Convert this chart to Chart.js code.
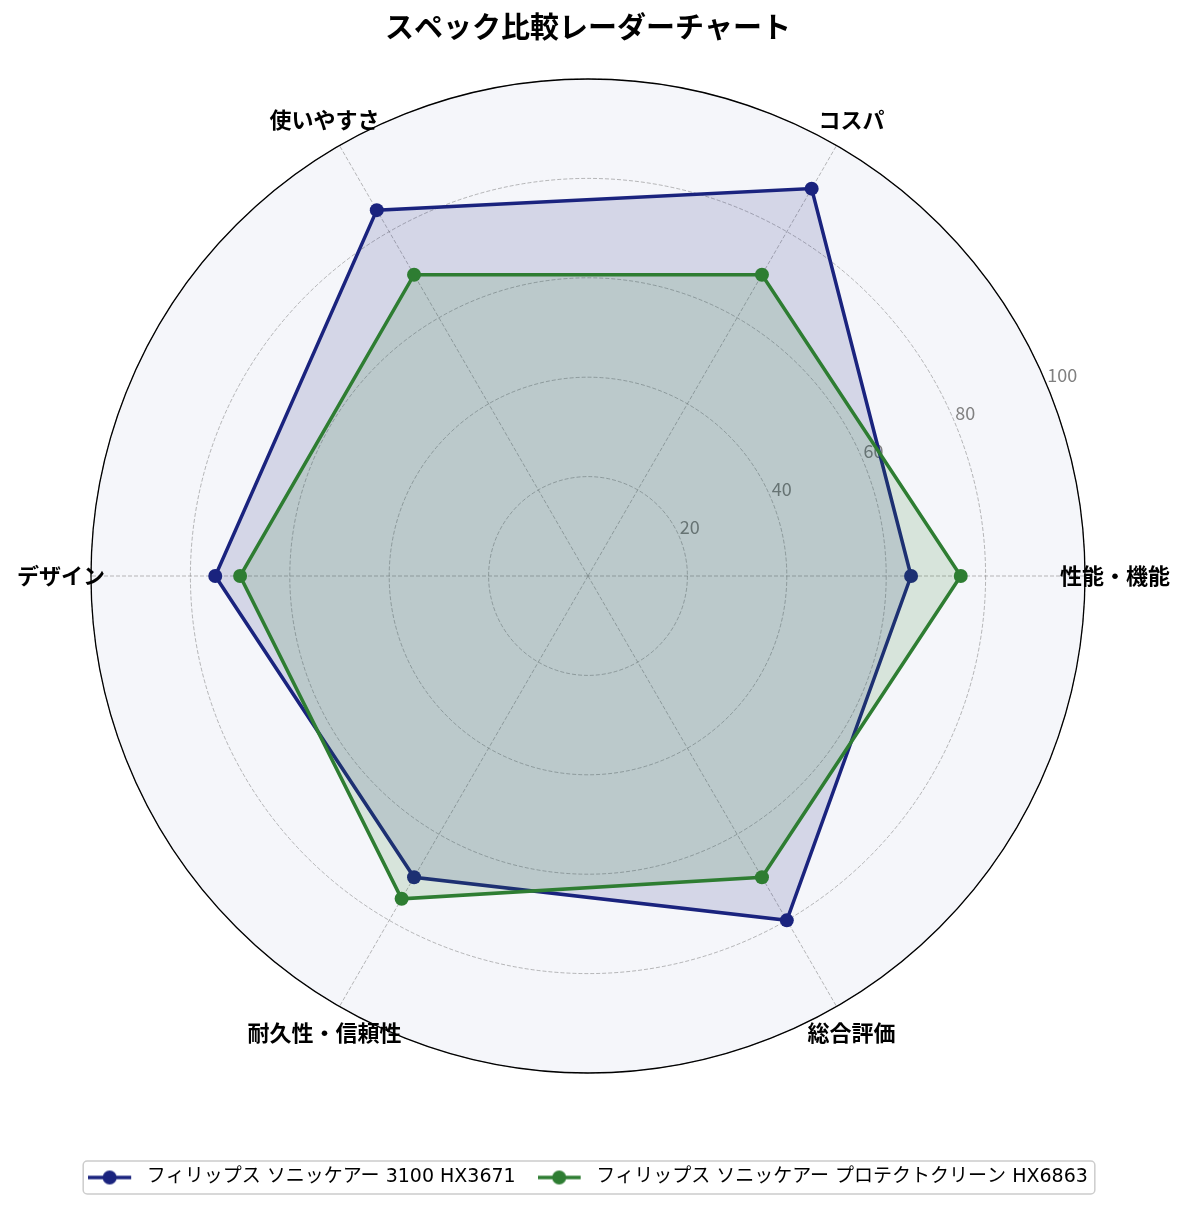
<!DOCTYPE html>
<html>
<head>
<meta charset="utf-8">
<script src="https://cdn.jsdelivr.net/npm/chart.js@4.4.1/dist/chart.umd.min.js"></script>
<style>
html, body { margin: 0; padding: 0; background: #ffffff; }
canvas { display: block; }
</style>
</head>
<body>
<canvas id="c" width="1185" height="1211"></canvas>
<script>
// ---- data (matplotlib order: counter-clockwise starting from the right) ----
const chartTitle = 'スペック比較レーダーチャート';
const categories = ['性能・機能', 'コスパ', '使いやすさ', 'デザイン', '耐久性・信頼性', '総合評価'];
const seriesNames = [
  'フィリップス ソニッケアー 3100 HX3671',
  'フィリップス ソニッケアー プロテクトクリーン HX6863'
];
const seriesHX3671 = [65, 90, 85, 75, 70, 80];
const seriesHX6863 = [75, 70, 70, 70, 75, 70];
const tickValues = [20, 40, 60, 80, 100];

// ---- styles ----
const lineColors = ['#1a237e', '#2e7d32'];
const fillColors = ['rgba(26,35,126,0.15)', 'rgba(46,125,50,0.15)'];
const FONT = '"Noto Sans CJK JP", "Noto Sans", sans-serif';
const LEGEND_FONT = '"DejaVu Sans", "Noto Sans CJK JP", sans-serif';

// Chart.js goes clockwise; the reference goes counter-clockwise -> reorder
const drawOrder = categories.map((_, i) => (categories.length - i) % categories.length);
const seriesList = [seriesHX3671, seriesHX6863];

function makeHandle(color) {
  const c = document.createElement('canvas');
  c.width = 49; c.height = 16;
  const g = c.getContext('2d');
  g.strokeStyle = color; g.lineWidth = 3.5;
  g.beginPath(); g.moveTo(0, 8); g.lineTo(43, 8); g.stroke();
  g.fillStyle = color;
  g.beginPath(); g.arc(21.5, 8, 7, 0, Math.PI * 2); g.fill();
  return c;
}
const handles = lineColors.map(makeHandle);

const polarDecor = {
  id: 'polarDecor',
  beforeDraw(chart) {
    const s = chart.scales.r, ctx = chart.ctx;
    const R = s.getDistanceFromCenterForValue(100);
    ctx.save();
    ctx.beginPath();
    ctx.arc(s.xCenter, s.yCenter, R, 0, Math.PI * 2);
    ctx.fillStyle = '#f5f6fa';
    ctx.fill();
    ctx.restore();
  },
  beforeDatasetsDraw(chart) {
    const s = chart.scales.r, ctx = chart.ctx;
    const a = 22.5 * Math.PI / 180;
    ctx.save();
    ctx.font = '18px ' + FONT;
    ctx.fillStyle = '#808080';
    ctx.textAlign = 'left';
    ctx.textBaseline = 'bottom';
    tickValues.forEach(v => {
      const d = s.getDistanceFromCenterForValue(v);
      ctx.fillText(String(v), s.xCenter + d * Math.cos(a), s.yCenter - d * Math.sin(a) - 2);
    });
    ctx.restore();
  },
  afterDatasetsDraw(chart) {
    const s = chart.scales.r, ctx = chart.ctx;
    const R = s.getDistanceFromCenterForValue(100);
    ctx.save();
    ctx.beginPath();
    ctx.arc(s.xCenter, s.yCenter, R, 0, Math.PI * 2);
    ctx.strokeStyle = '#000000';
    ctx.lineWidth = 1.3;
    ctx.stroke();
    ctx.font = 'bold 22px ' + FONT;
    ctx.fillStyle = '#000000';
    ctx.textAlign = 'center';
    ctx.textBaseline = 'middle';
    chart.data.labels.forEach((lab, i) => {
      const p = s.getPointPosition(i, R + 30);
      ctx.fillText(lab, p.x, p.y);
    });
    ctx.restore();
  },
  afterDraw(chart) {
    const lg = chart.legend, ctx = chart.ctx;
    if (!lg || !lg.legendHitBoxes || !lg.legendHitBoxes.length) return;
    const hb = lg.legendHitBoxes;
    const first = hb[0], last = hb[hb.length - 1];
    const x0 = first.left - 5, x1 = last.left + last.width + 7;
    const cy = first.top + first.height / 2;
    const y0 = cy - 16.5, y1 = cy + 16.5;
    ctx.save();
    ctx.strokeStyle = '#cccccc';
    ctx.lineWidth = 1.5;
    ctx.beginPath();
    if (ctx.roundRect) ctx.roundRect(x0, y0, x1 - x0, y1 - y0, 4);
    else ctx.rect(x0, y0, x1 - x0, y1 - y0);
    ctx.stroke();
    ctx.restore();
  }
};

new Chart(document.getElementById('c').getContext('2d'), {
  type: 'radar',
  data: {
    labels: drawOrder.map(i => categories[i]),
    datasets: seriesList.map((vals, k) => ({
      label: seriesNames[k],
      data: drawOrder.map(i => vals[i]),
      borderColor: lineColors[k],
      backgroundColor: fillColors[k],
      borderWidth: 3.5,
      pointRadius: 7,
      pointHoverRadius: 7,
      pointBackgroundColor: lineColors[k],
      pointBorderColor: lineColors[k],
      pointBorderWidth: 0,
      fill: true,
      order: 1 - k
    }))
  },
  options: {
    responsive: false,
    animation: false,
    layout: { padding: { left: 10, right: 19, top: 0, bottom: 14 } },
    plugins: {
      title: {
        display: true,
        text: chartTitle,
        color: '#000000',
        font: { family: FONT, size: 29, weight: 'bold', lineHeight: 1.2 },
        padding: { top: 10, bottom: 34.2 }
      },
      legend: {
        position: 'bottom',
        title: { display: true, text: '', font: { size: 10, lineHeight: 1 }, padding: { top: 0, bottom: 63 } },
        labels: {
          usePointStyle: true,
          pointStyleWidth: 49,
          padding: 22,
          color: '#000000',
          font: { family: LEGEND_FONT, size: 19 },
          generateLabels: (chart) => chart.data.datasets.map((ds, i) => ({
            text: ds.label,
            pointStyle: handles[i],
            fillStyle: ds.borderColor,
            strokeStyle: ds.borderColor,
            lineWidth: 0,
            hidden: false,
            datasetIndex: i,
            fontColor: '#000000'
          }))
        }
      },
      tooltip: { enabled: false }
    },
    scales: {
      r: {
        min: 0,
        max: 100,
        startAngle: 90,
        ticks: { display: false, stepSize: 20 },
        pointLabels: { display: false },
        grid: { circular: true, color: 'rgba(128,128,128,0.55)', lineWidth: 1, borderDash: [4, 2] },
        border: { dash: [4, 2] },
        angleLines: { display: true, color: 'rgba(128,128,128,0.55)', lineWidth: 1, borderDash: [4, 2] }
      }
    }
  },
  plugins: [polarDecor]
});
</script>
</body>
</html>
